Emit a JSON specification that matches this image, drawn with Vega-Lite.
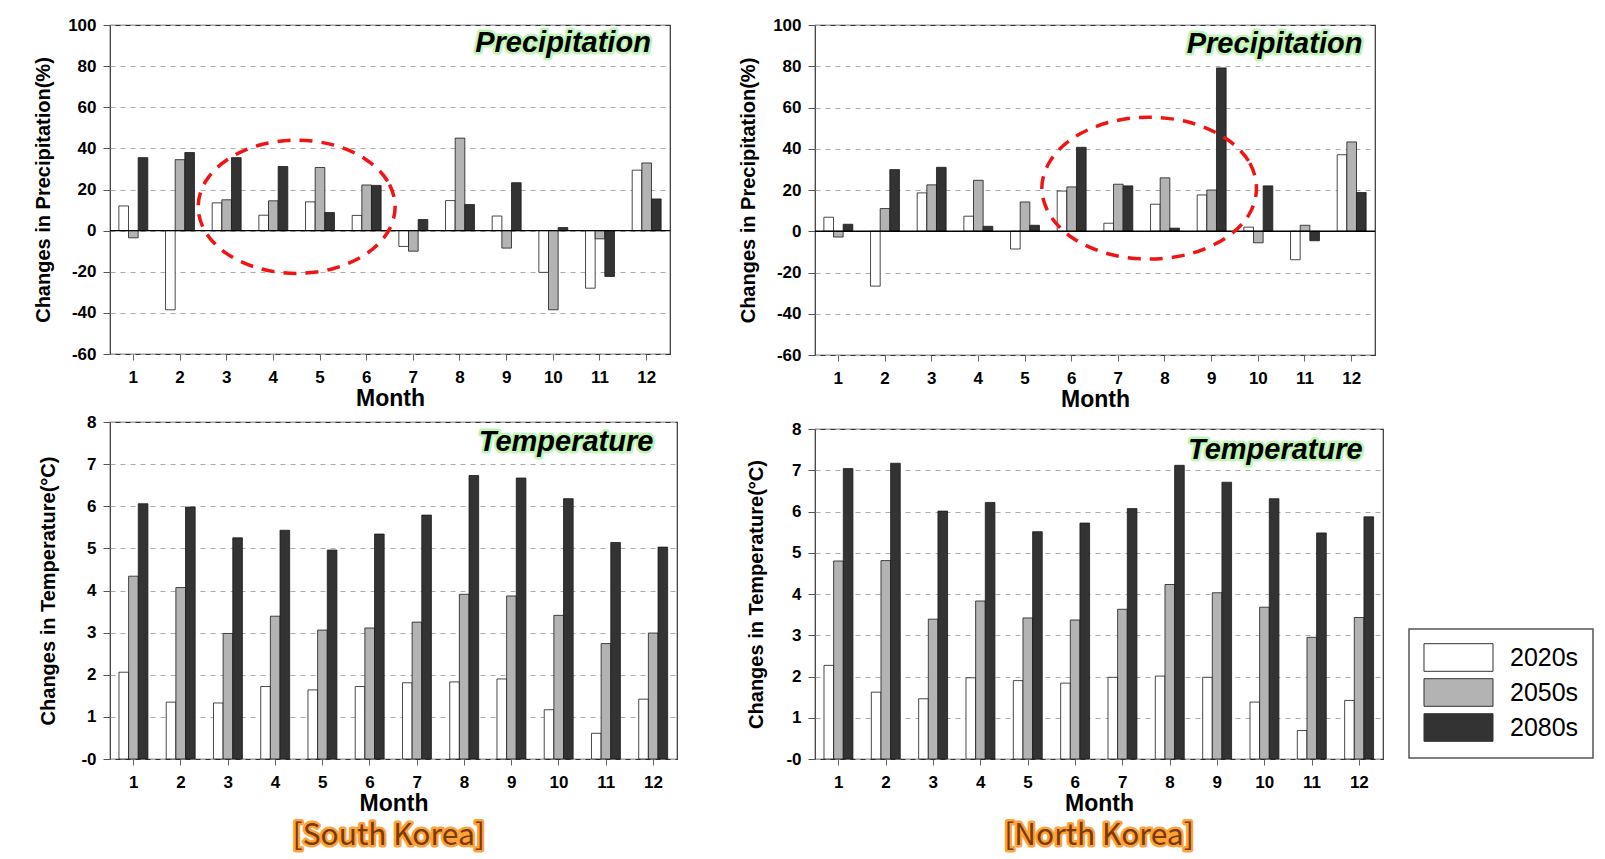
{
  "$schema": "https://vega.github.io/schema/vega-lite/v6.json",
  "background": "white",
  "padding": {"left": 33, "top": 15, "right": 5, "bottom": 5},
  "datasets": {
    "bars": [
      {"region":"SK","variable":"P","month":1,"period":"2020s","value":12},{"region":"SK","variable":"P","month":1,"period":"2050s","value":-3.5},{"region":"SK","variable":"P","month":1,"period":"2080s","value":35.5},
      {"region":"SK","variable":"P","month":2,"period":"2020s","value":-38.5},{"region":"SK","variable":"P","month":2,"period":"2050s","value":34.5},{"region":"SK","variable":"P","month":2,"period":"2080s","value":38},
      {"region":"SK","variable":"P","month":3,"period":"2020s","value":13.5},{"region":"SK","variable":"P","month":3,"period":"2050s","value":15},{"region":"SK","variable":"P","month":3,"period":"2080s","value":35.5},
      {"region":"SK","variable":"P","month":4,"period":"2020s","value":7.5},{"region":"SK","variable":"P","month":4,"period":"2050s","value":14.5},{"region":"SK","variable":"P","month":4,"period":"2080s","value":31.2},
      {"region":"SK","variable":"P","month":5,"period":"2020s","value":14},{"region":"SK","variable":"P","month":5,"period":"2050s","value":30.7},{"region":"SK","variable":"P","month":5,"period":"2080s","value":8.8},
      {"region":"SK","variable":"P","month":6,"period":"2020s","value":7.4},{"region":"SK","variable":"P","month":6,"period":"2050s","value":22.2},{"region":"SK","variable":"P","month":6,"period":"2080s","value":22},
      {"region":"SK","variable":"P","month":7,"period":"2020s","value":-7.7},{"region":"SK","variable":"P","month":7,"period":"2050s","value":-10},{"region":"SK","variable":"P","month":7,"period":"2080s","value":5.4},
      {"region":"SK","variable":"P","month":8,"period":"2020s","value":14.6},{"region":"SK","variable":"P","month":8,"period":"2050s","value":45},{"region":"SK","variable":"P","month":8,"period":"2080s","value":12.7},
      {"region":"SK","variable":"P","month":9,"period":"2020s","value":7.1},{"region":"SK","variable":"P","month":9,"period":"2050s","value":-8.5},{"region":"SK","variable":"P","month":9,"period":"2080s","value":23.3},
      {"region":"SK","variable":"P","month":10,"period":"2020s","value":-20.3},{"region":"SK","variable":"P","month":10,"period":"2050s","value":-38.5},{"region":"SK","variable":"P","month":10,"period":"2080s","value":1.5},
      {"region":"SK","variable":"P","month":11,"period":"2020s","value":-28},{"region":"SK","variable":"P","month":11,"period":"2050s","value":-4},{"region":"SK","variable":"P","month":11,"period":"2080s","value":-22.3},
      {"region":"SK","variable":"P","month":12,"period":"2020s","value":29.4},{"region":"SK","variable":"P","month":12,"period":"2050s","value":32.9},{"region":"SK","variable":"P","month":12,"period":"2080s","value":15.4},
      {"region":"NK","variable":"P","month":1,"period":"2020s","value":6.8},{"region":"NK","variable":"P","month":1,"period":"2050s","value":-2.8},{"region":"NK","variable":"P","month":1,"period":"2080s","value":3.4},
      {"region":"NK","variable":"P","month":2,"period":"2020s","value":-26.6},{"region":"NK","variable":"P","month":2,"period":"2050s","value":11},{"region":"NK","variable":"P","month":2,"period":"2080s","value":29.9},
      {"region":"NK","variable":"P","month":3,"period":"2020s","value":18.6},{"region":"NK","variable":"P","month":3,"period":"2050s","value":22.5},{"region":"NK","variable":"P","month":3,"period":"2080s","value":31},
      {"region":"NK","variable":"P","month":4,"period":"2020s","value":7.3},{"region":"NK","variable":"P","month":4,"period":"2050s","value":24.7},{"region":"NK","variable":"P","month":4,"period":"2080s","value":2.4},
      {"region":"NK","variable":"P","month":5,"period":"2020s","value":-8.6},{"region":"NK","variable":"P","month":5,"period":"2050s","value":14.2},{"region":"NK","variable":"P","month":5,"period":"2080s","value":2.9},
      {"region":"NK","variable":"P","month":6,"period":"2020s","value":19.5},{"region":"NK","variable":"P","month":6,"period":"2050s","value":21.5},{"region":"NK","variable":"P","month":6,"period":"2080s","value":40.7},
      {"region":"NK","variable":"P","month":7,"period":"2020s","value":3.9},{"region":"NK","variable":"P","month":7,"period":"2050s","value":22.8},{"region":"NK","variable":"P","month":7,"period":"2080s","value":22},
      {"region":"NK","variable":"P","month":8,"period":"2020s","value":13.1},{"region":"NK","variable":"P","month":8,"period":"2050s","value":25.9},{"region":"NK","variable":"P","month":8,"period":"2080s","value":1.5},
      {"region":"NK","variable":"P","month":9,"period":"2020s","value":17.6},{"region":"NK","variable":"P","month":9,"period":"2050s","value":20},{"region":"NK","variable":"P","month":9,"period":"2080s","value":79.2},
      {"region":"NK","variable":"P","month":10,"period":"2020s","value":2},{"region":"NK","variable":"P","month":10,"period":"2050s","value":-5.6},{"region":"NK","variable":"P","month":10,"period":"2080s","value":22},
      {"region":"NK","variable":"P","month":11,"period":"2020s","value":-13.8},{"region":"NK","variable":"P","month":11,"period":"2050s","value":2.9},{"region":"NK","variable":"P","month":11,"period":"2080s","value":-4.6},
      {"region":"NK","variable":"P","month":12,"period":"2020s","value":37.1},{"region":"NK","variable":"P","month":12,"period":"2050s","value":43.3},{"region":"NK","variable":"P","month":12,"period":"2080s","value":18.8},
      {"region":"SK","variable":"T","month":1,"period":"2020s","value":2.06},{"region":"SK","variable":"T","month":1,"period":"2050s","value":4.34},{"region":"SK","variable":"T","month":1,"period":"2080s","value":6.06},
      {"region":"SK","variable":"T","month":2,"period":"2020s","value":1.35},{"region":"SK","variable":"T","month":2,"period":"2050s","value":4.07},{"region":"SK","variable":"T","month":2,"period":"2080s","value":5.98},
      {"region":"SK","variable":"T","month":3,"period":"2020s","value":1.33},{"region":"SK","variable":"T","month":3,"period":"2050s","value":2.98},{"region":"SK","variable":"T","month":3,"period":"2080s","value":5.25},
      {"region":"SK","variable":"T","month":4,"period":"2020s","value":1.72},{"region":"SK","variable":"T","month":4,"period":"2050s","value":3.39},{"region":"SK","variable":"T","month":4,"period":"2080s","value":5.43},
      {"region":"SK","variable":"T","month":5,"period":"2020s","value":1.64},{"region":"SK","variable":"T","month":5,"period":"2050s","value":3.06},{"region":"SK","variable":"T","month":5,"period":"2080s","value":4.96},
      {"region":"SK","variable":"T","month":6,"period":"2020s","value":1.72},{"region":"SK","variable":"T","month":6,"period":"2050s","value":3.11},{"region":"SK","variable":"T","month":6,"period":"2080s","value":5.34},
      {"region":"SK","variable":"T","month":7,"period":"2020s","value":1.81},{"region":"SK","variable":"T","month":7,"period":"2050s","value":3.25},{"region":"SK","variable":"T","month":7,"period":"2080s","value":5.79},
      {"region":"SK","variable":"T","month":8,"period":"2020s","value":1.83},{"region":"SK","variable":"T","month":8,"period":"2050s","value":3.91},{"region":"SK","variable":"T","month":8,"period":"2080s","value":6.73},
      {"region":"SK","variable":"T","month":9,"period":"2020s","value":1.9},{"region":"SK","variable":"T","month":9,"period":"2050s","value":3.87},{"region":"SK","variable":"T","month":9,"period":"2080s","value":6.67},
      {"region":"SK","variable":"T","month":10,"period":"2020s","value":1.17},{"region":"SK","variable":"T","month":10,"period":"2050s","value":3.41},{"region":"SK","variable":"T","month":10,"period":"2080s","value":6.18},
      {"region":"SK","variable":"T","month":11,"period":"2020s","value":0.61},{"region":"SK","variable":"T","month":11,"period":"2050s","value":2.74},{"region":"SK","variable":"T","month":11,"period":"2080s","value":5.14},
      {"region":"SK","variable":"T","month":12,"period":"2020s","value":1.42},{"region":"SK","variable":"T","month":12,"period":"2050s","value":2.99},{"region":"SK","variable":"T","month":12,"period":"2080s","value":5.03},
      {"region":"NK","variable":"T","month":1,"period":"2020s","value":2.27},{"region":"NK","variable":"T","month":1,"period":"2050s","value":4.8},{"region":"NK","variable":"T","month":1,"period":"2080s","value":7.04},
      {"region":"NK","variable":"T","month":2,"period":"2020s","value":1.62},{"region":"NK","variable":"T","month":2,"period":"2050s","value":4.81},{"region":"NK","variable":"T","month":2,"period":"2080s","value":7.17},
      {"region":"NK","variable":"T","month":3,"period":"2020s","value":1.46},{"region":"NK","variable":"T","month":3,"period":"2050s","value":3.39},{"region":"NK","variable":"T","month":3,"period":"2080s","value":6.01},
      {"region":"NK","variable":"T","month":4,"period":"2020s","value":1.97},{"region":"NK","variable":"T","month":4,"period":"2050s","value":3.83},{"region":"NK","variable":"T","month":4,"period":"2080s","value":6.22},
      {"region":"NK","variable":"T","month":5,"period":"2020s","value":1.9},{"region":"NK","variable":"T","month":5,"period":"2050s","value":3.42},{"region":"NK","variable":"T","month":5,"period":"2080s","value":5.51},
      {"region":"NK","variable":"T","month":6,"period":"2020s","value":1.84},{"region":"NK","variable":"T","month":6,"period":"2050s","value":3.37},{"region":"NK","variable":"T","month":6,"period":"2080s","value":5.72},
      {"region":"NK","variable":"T","month":7,"period":"2020s","value":1.98},{"region":"NK","variable":"T","month":7,"period":"2050s","value":3.63},{"region":"NK","variable":"T","month":7,"period":"2080s","value":6.07},
      {"region":"NK","variable":"T","month":8,"period":"2020s","value":2.01},{"region":"NK","variable":"T","month":8,"period":"2050s","value":4.23},{"region":"NK","variable":"T","month":8,"period":"2080s","value":7.12},
      {"region":"NK","variable":"T","month":9,"period":"2020s","value":1.98},{"region":"NK","variable":"T","month":9,"period":"2050s","value":4.03},{"region":"NK","variable":"T","month":9,"period":"2080s","value":6.71},
      {"region":"NK","variable":"T","month":10,"period":"2020s","value":1.38},{"region":"NK","variable":"T","month":10,"period":"2050s","value":3.68},{"region":"NK","variable":"T","month":10,"period":"2080s","value":6.31},
      {"region":"NK","variable":"T","month":11,"period":"2020s","value":0.69},{"region":"NK","variable":"T","month":11,"period":"2050s","value":2.95},{"region":"NK","variable":"T","month":11,"period":"2080s","value":5.48},
      {"region":"NK","variable":"T","month":12,"period":"2020s","value":1.42},{"region":"NK","variable":"T","month":12,"period":"2050s","value":3.43},{"region":"NK","variable":"T","month":12,"period":"2080s","value":5.87}
    ],
    "ellipses": [
      {"region":"SK","k":0,"mx":6.61,"val":11.6},{"region":"SK","k":1,"mx":6.45,"val":24.0},{"region":"SK","k":2,"mx":5.99,"val":34.5},{"region":"SK","k":3,"mx":5.31,"val":41.5},
      {"region":"SK","k":4,"mx":4.5,"val":44.0},{"region":"SK","k":5,"mx":3.69,"val":41.5},{"region":"SK","k":6,"mx":3.01,"val":34.5},{"region":"SK","k":7,"mx":2.55,"val":24.0},
      {"region":"SK","k":8,"mx":2.39,"val":11.6},{"region":"SK","k":9,"mx":2.55,"val":-0.8},{"region":"SK","k":10,"mx":3.01,"val":-11.3},{"region":"SK","k":11,"mx":3.69,"val":-18.3},
      {"region":"SK","k":12,"mx":4.5,"val":-20.8},{"region":"SK","k":13,"mx":5.31,"val":-18.3},{"region":"SK","k":14,"mx":5.99,"val":-11.3},{"region":"SK","k":15,"mx":6.45,"val":-0.8},
      {"region":"NK","k":0,"mx":9.96,"val":20.9},{"region":"NK","k":1,"mx":9.79,"val":34.1},{"region":"NK","k":2,"mx":9.29,"val":45.2},{"region":"NK","k":3,"mx":8.54,"val":52.7},
      {"region":"NK","k":4,"mx":7.66,"val":55.3},{"region":"NK","k":5,"mx":6.78,"val":52.7},{"region":"NK","k":6,"mx":6.03,"val":45.2},{"region":"NK","k":7,"mx":5.54,"val":34.1},
      {"region":"NK","k":8,"mx":5.36,"val":20.9},{"region":"NK","k":9,"mx":5.54,"val":7.7},{"region":"NK","k":10,"mx":6.03,"val":-3.4},{"region":"NK","k":11,"mx":6.78,"val":-10.9},
      {"region":"NK","k":12,"mx":7.66,"val":-13.5},{"region":"NK","k":13,"mx":8.54,"val":-10.9},{"region":"NK","k":14,"mx":9.29,"val":-3.4},{"region":"NK","k":15,"mx":9.79,"val":7.7}
    ]
  },
  "hconcat": [
    {
      "spacing": 1,
      "vconcat": [
        {
          "width": 560, "height": 329,
          "resolve": {"scale": {"x": "independent"}},
          "layer": [
            {
              "data": {"name": "bars"},
              "transform": [{"filter": "datum.region == 'SK' && datum.variable == 'P'"}],
              "mark": {"type": "bar", "stroke": "#1a1a1a", "strokeWidth": 0.8},
              "encoding": {
                "x": {"field": "month", "type": "ordinal", "title": "Month", "scale": {"paddingInner": 0.38, "paddingOuter": 0.19}},
                "xOffset": {"field": "period", "type": "nominal"},
                "y": {"field": "value", "type": "quantitative", "title": "Changes in Precipitation(%)", "scale": {"domain": [-60, 100], "nice": false, "zero": false}, "axis": {"values": [-60, -40, -20, 0, 20, 40, 60, 80, 100], "labelExpr": "toString(datum.value)", "titlePadding": 14}},
                "fill": {"field": "period", "type": "nominal", "scale": {"domain": ["2020s", "2050s", "2080s"], "range": ["#ffffff", "#b3b3b3", "#333333"]}, "legend": {"orient": "none", "legendX": 1299, "legendY": 604, "title": null}}
              }
            },
            {"data": {"values": [{}]}, "mark": {"type": "rule", "color": "#000000", "strokeWidth": 1.3}, "encoding": {"y": {"datum": 0, "title": "Changes in Precipitation(%)"}}},
            {
              "data": {"name": "ellipses"},
              "transform": [{"filter": "datum.region == 'SK'"}],
              "mark": {"type": "line", "interpolate": "cardinal-closed", "color": "#f01414", "strokeWidth": 3.5, "strokeDash": [13, 9]},
              "encoding": {
                "x": {"field": "mx", "type": "quantitative", "scale": {"domain": [0.5, 12.5], "nice": false, "zero": false}, "axis": null},
                "y": {"field": "val", "type": "quantitative", "title": "Changes in Precipitation(%)"},
                "order": {"field": "k"}
              }
            },
            {"data": {"values": [{}]}, "mark": {"type": "text", "text": "Precipitation", "font": "Liberation Sans", "fontSize": 29, "fontWeight": "bold", "fontStyle": "italic", "align": "right", "baseline": "alphabetic", "fill": "#bff5b5", "stroke": "#bff5b5", "strokeWidth": 5, "strokeJoin": "round"},
             "encoding": {"x": {"datum": 12.09, "type": "quantitative", "scale": {"domain": [0.5, 12.5], "nice": false, "zero": false}, "axis": null}, "y": {"datum": 87, "title": "Changes in Precipitation(%)"}}},
            {"data": {"values": [{}]}, "mark": {"type": "text", "text": "Precipitation", "font": "Liberation Sans", "fontSize": 29, "fontWeight": "bold", "fontStyle": "italic", "align": "right", "baseline": "alphabetic", "fill": "#000000"},
             "encoding": {"x": {"datum": 12.09, "type": "quantitative", "scale": {"domain": [0.5, 12.5], "nice": false, "zero": false}, "axis": null}, "y": {"datum": 87, "title": "Changes in Precipitation(%)"}}}
          ]
        },
        {
          "width": 567, "height": 337,
          "resolve": {"scale": {"x": "independent"}},
          "layer": [
            {
              "data": {"name": "bars"},
              "transform": [{"filter": "datum.region == 'SK' && datum.variable == 'T'"}],
              "mark": {"type": "bar", "stroke": "#1a1a1a", "strokeWidth": 0.8},
              "encoding": {
                "x": {"field": "month", "type": "ordinal", "title": "Month", "scale": {"paddingInner": 0.38, "paddingOuter": 0.19}},
                "xOffset": {"field": "period", "type": "nominal"},
                "y": {"field": "value", "type": "quantitative", "title": "Changes in Temperature(°C)", "scale": {"domain": [0, 8], "nice": false, "zero": false}, "axis": {"values": [0, 1, 2, 3, 4, 5, 6, 7, 8], "labelExpr": "datum.value == 0 ? '-0' : datum.label", "titlePadding": 22}},
                "fill": {"field": "period", "type": "nominal", "scale": {"domain": ["2020s", "2050s", "2080s"], "range": ["#ffffff", "#b3b3b3", "#333333"]}, "legend": {"orient": "none", "legendX": 1299, "legendY": 604, "title": null}}
              }
            },
            {"data": {"values": [{}]}, "mark": {"type": "text", "text": "Temperature", "font": "Liberation Sans", "fontSize": 29, "fontWeight": "bold", "fontStyle": "italic", "align": "right", "baseline": "alphabetic", "fill": "#bff5b5", "stroke": "#bff5b5", "strokeWidth": 5, "strokeJoin": "round"},
             "encoding": {"x": {"datum": 12.0, "type": "quantitative", "scale": {"domain": [0.5, 12.5], "nice": false, "zero": false}, "axis": null}, "y": {"datum": 7.31, "title": "Changes in Temperature(°C)"}}},
            {"data": {"values": [{}]}, "mark": {"type": "text", "text": "Temperature", "font": "Liberation Sans", "fontSize": 29, "fontWeight": "bold", "fontStyle": "italic", "align": "right", "baseline": "alphabetic", "fill": "#000000"},
             "encoding": {"x": {"datum": 12.0, "type": "quantitative", "scale": {"domain": [0.5, 12.5], "nice": false, "zero": false}, "axis": null}, "y": {"datum": 7.31, "title": "Changes in Temperature(°C)"}}},
            {"data": {"values": [{}]}, "mark": {"type": "text", "text": "[South Korea]", "font": "Noto Sans CJK KR", "fontSize": 30, "align": "center", "baseline": "alphabetic", "fill": "#ffa23a", "stroke": "#ffa23a", "strokeWidth": 5, "strokeJoin": "round"},
             "encoding": {"x": {"datum": 6.4, "type": "quantitative", "scale": {"domain": [0.5, 12.5], "nice": false, "zero": false}, "axis": null}, "y": {"datum": -2.05, "title": "Changes in Temperature(°C)"}}},
            {"data": {"values": [{}]}, "mark": {"type": "text", "text": "[South Korea]", "font": "Noto Sans CJK KR", "fontSize": 30, "align": "center", "baseline": "alphabetic", "fill": "#7a3a00"},
             "encoding": {"x": {"datum": 6.4, "type": "quantitative", "scale": {"domain": [0.5, 12.5], "nice": false, "zero": false}, "axis": null}, "y": {"datum": -2.05, "title": "Changes in Temperature(°C)"}}}
          ]
        }
      ]
    },
    {
      "spacing": 7,
      "vconcat": [
        {
          "width": 560, "height": 330,
          "resolve": {"scale": {"x": "independent"}},
          "layer": [
            {
              "data": {"name": "bars"},
              "transform": [{"filter": "datum.region == 'NK' && datum.variable == 'P'"}],
              "mark": {"type": "bar", "stroke": "#1a1a1a", "strokeWidth": 0.8},
              "encoding": {
                "x": {"field": "month", "type": "ordinal", "title": "Month", "scale": {"paddingInner": 0.38, "paddingOuter": 0.19}},
                "xOffset": {"field": "period", "type": "nominal"},
                "y": {"field": "value", "type": "quantitative", "title": "Changes in Precipitation(%)", "scale": {"domain": [-60, 100], "nice": false, "zero": false}, "axis": {"values": [-60, -40, -20, 0, 20, 40, 60, 80, 100], "labelExpr": "toString(datum.value)", "titlePadding": 14}},
                "fill": {"field": "period", "type": "nominal", "scale": {"domain": ["2020s", "2050s", "2080s"], "range": ["#ffffff", "#b3b3b3", "#333333"]}, "legend": {"orient": "none", "legendX": 1299, "legendY": 604, "title": null}}
              }
            },
            {"data": {"values": [{}]}, "mark": {"type": "rule", "color": "#000000", "strokeWidth": 1.3}, "encoding": {"y": {"datum": 0, "title": "Changes in Precipitation(%)"}}},
            {
              "data": {"name": "ellipses"},
              "transform": [{"filter": "datum.region == 'NK'"}],
              "mark": {"type": "line", "interpolate": "cardinal-closed", "color": "#f01414", "strokeWidth": 3.5, "strokeDash": [13, 9]},
              "encoding": {
                "x": {"field": "mx", "type": "quantitative", "scale": {"domain": [0.5, 12.5], "nice": false, "zero": false}, "axis": null},
                "y": {"field": "val", "type": "quantitative", "title": "Changes in Precipitation(%)"},
                "order": {"field": "k"}
              }
            },
            {"data": {"values": [{}]}, "mark": {"type": "text", "text": "Precipitation", "font": "Liberation Sans", "fontSize": 29, "fontWeight": "bold", "fontStyle": "italic", "align": "right", "baseline": "alphabetic", "fill": "#bff5b5", "stroke": "#bff5b5", "strokeWidth": 5, "strokeJoin": "round"},
             "encoding": {"x": {"datum": 12.23, "type": "quantitative", "scale": {"domain": [0.5, 12.5], "nice": false, "zero": false}, "axis": null}, "y": {"datum": 86.5, "title": "Changes in Precipitation(%)"}}},
            {"data": {"values": [{}]}, "mark": {"type": "text", "text": "Precipitation", "font": "Liberation Sans", "fontSize": 29, "fontWeight": "bold", "fontStyle": "italic", "align": "right", "baseline": "alphabetic", "fill": "#000000"},
             "encoding": {"x": {"datum": 12.23, "type": "quantitative", "scale": {"domain": [0.5, 12.5], "nice": false, "zero": false}, "axis": null}, "y": {"datum": 86.5, "title": "Changes in Precipitation(%)"}}}
          ]
        },
        {
          "width": 568, "height": 330,
          "resolve": {"scale": {"x": "independent"}},
          "layer": [
            {
              "data": {"name": "bars"},
              "transform": [{"filter": "datum.region == 'NK' && datum.variable == 'T'"}],
              "mark": {"type": "bar", "stroke": "#1a1a1a", "strokeWidth": 0.8},
              "encoding": {
                "x": {"field": "month", "type": "ordinal", "title": "Month", "scale": {"paddingInner": 0.38, "paddingOuter": 0.19}},
                "xOffset": {"field": "period", "type": "nominal"},
                "y": {"field": "value", "type": "quantitative", "title": "Changes in Temperature(°C)", "scale": {"domain": [0, 8], "nice": false, "zero": false}, "axis": {"values": [0, 1, 2, 3, 4, 5, 6, 7, 8], "labelExpr": "datum.value == 0 ? '-0' : datum.label", "titlePadding": 19}},
                "fill": {"field": "period", "type": "nominal", "scale": {"domain": ["2020s", "2050s", "2080s"], "range": ["#ffffff", "#b3b3b3", "#333333"]}, "legend": {"orient": "none", "legendX": 1299, "legendY": 604, "title": null}}
              }
            },
            {"data": {"values": [{}]}, "mark": {"type": "text", "text": "Temperature", "font": "Liberation Sans", "fontSize": 29, "fontWeight": "bold", "fontStyle": "italic", "align": "right", "baseline": "alphabetic", "fill": "#bff5b5", "stroke": "#bff5b5", "strokeWidth": 5, "strokeJoin": "round"},
             "encoding": {"x": {"datum": 12.07, "type": "quantitative", "scale": {"domain": [0.5, 12.5], "nice": false, "zero": false}, "axis": null}, "y": {"datum": 7.28, "title": "Changes in Temperature(°C)"}}},
            {"data": {"values": [{}]}, "mark": {"type": "text", "text": "Temperature", "font": "Liberation Sans", "fontSize": 29, "fontWeight": "bold", "fontStyle": "italic", "align": "right", "baseline": "alphabetic", "fill": "#000000"},
             "encoding": {"x": {"datum": 12.07, "type": "quantitative", "scale": {"domain": [0.5, 12.5], "nice": false, "zero": false}, "axis": null}, "y": {"datum": 7.28, "title": "Changes in Temperature(°C)"}}},
            {"data": {"values": [{}]}, "mark": {"type": "text", "text": "[North Korea]", "font": "Noto Sans CJK KR", "fontSize": 30, "align": "center", "baseline": "alphabetic", "fill": "#ffa23a", "stroke": "#ffa23a", "strokeWidth": 5, "strokeJoin": "round"},
             "encoding": {"x": {"datum": 6.5, "type": "quantitative", "scale": {"domain": [0.5, 12.5], "nice": false, "zero": false}, "axis": null}, "y": {"datum": -2.08, "title": "Changes in Temperature(°C)"}}},
            {"data": {"values": [{}]}, "mark": {"type": "text", "text": "[North Korea]", "font": "Noto Sans CJK KR", "fontSize": 30, "align": "center", "baseline": "alphabetic", "fill": "#7a3a00"},
             "encoding": {"x": {"datum": 6.5, "type": "quantitative", "scale": {"domain": [0.5, 12.5], "nice": false, "zero": false}, "axis": null}, "y": {"datum": -2.08, "title": "Changes in Temperature(°C)"}}}
          ]
        }
      ]
    }
  ],
  "spacing": 60,
  "config": {
    "font": "Liberation Sans",
    "view": {"stroke": "#333333", "strokeWidth": 1.2},
    "axis": {"labelFont": "Liberation Sans", "titleFont": "Liberation Sans", "labelFontWeight": "bold", "titleFontWeight": "bold", "labelColor": "#000000", "titleColor": "#000000", "domain": false},
    "axisX": {"labelFontSize": 17, "titleFontSize": 23, "tickSize": 6, "labelPadding": 9, "titlePadding": 2, "labelAngle": 0, "tickColor": "#666666", "grid": false},
    "axisY": {"labelFontSize": 17, "titleFontSize": 20, "tickSize": 7, "labelPadding": 7, "tickColor": "#555555", "grid": true, "gridDash": [5, 5], "gridColor": "#aaaaaa", "gridWidth": 1.2},
    "legend": {
      "symbolType": "M-2.5,-1H2.5V1H-2.5Z",
      "symbolSize": 762,
      "symbolOffset": 21,
      "symbolStrokeColor": "#333333",
      "symbolStrokeWidth": 1,
      "labelFont": "Liberation Sans",
      "labelFontSize": 25,
      "labelColor": "#000000",
      "labelOffset": 37,
      "rowPadding": 2,
      "padding": 14,
      "strokeColor": "#555555",
      "strokeWidth": 1.5,
      "fillColor": "#ffffff"
    }
  }
}
